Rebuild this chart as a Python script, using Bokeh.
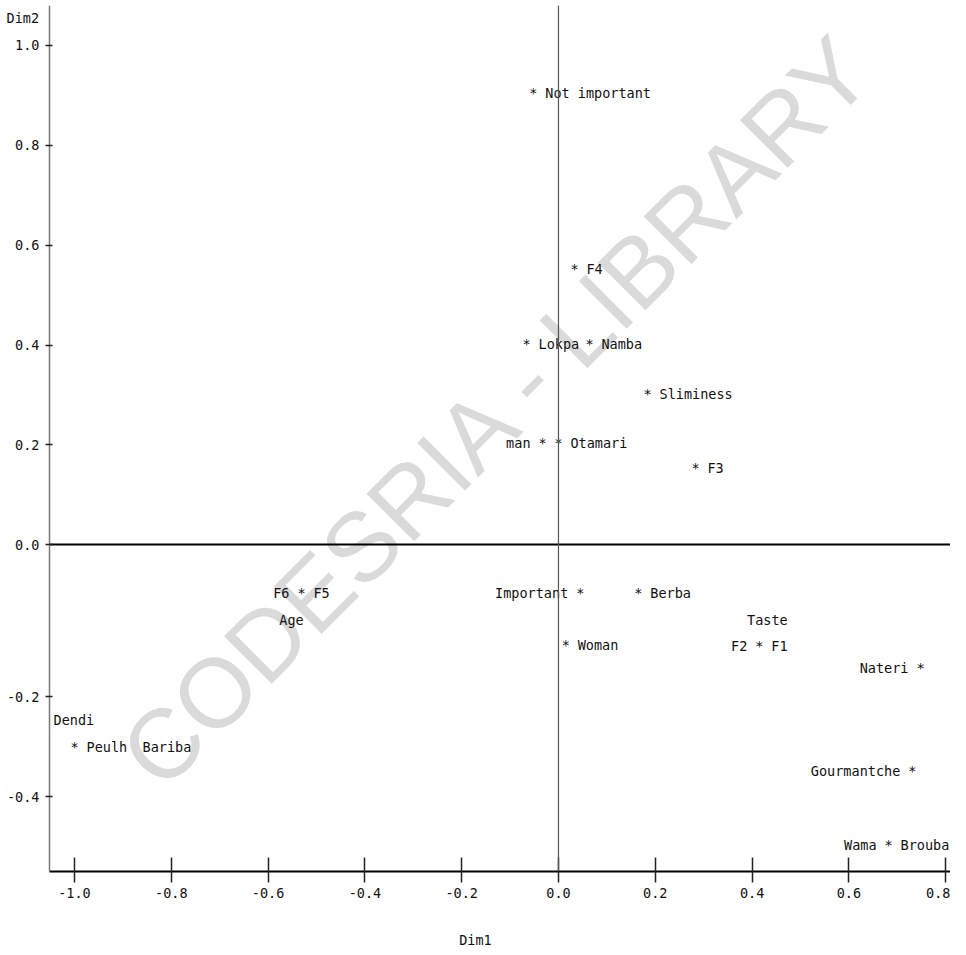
import math
from bokeh.plotting import figure
from bokeh.models import ColumnDataSource, FixedTicker, Span, Label, Range1d, LinearAxis
from bokeh.core.properties import value
from bokeh.embed import file_html
from bokeh.resources import INLINE

# ---- data ----
names = ["Not important", "F4", "Lokpa", "Namba", "Sliminess", "man", "Otamari", "F3",
         "F6", "F5", "Age", "Important", "Woman", "Berba", "F2", "F1", "Taste",
         "Nateri", "Gourmantche", "Wama", "Brouba", "Peulh", "Dendi", "Bariba"]
dim1 = [-0.052, 0.033, -0.066, 0.064, 0.184, -0.033, 0.000, 0.283,
        -0.531, -0.531, -0.531, 0.045, 0.015, 0.165, 0.415, 0.415, 0.415,
        0.748, 0.731, 0.682, 0.682, -1.000, -1.000, -1.000]
dim2 = [0.904, 0.552, 0.402, 0.402, 0.302, 0.204, 0.204, 0.154,
        -0.096, -0.096, -0.096, -0.096, -0.200, -0.096, -0.202, -0.202, -0.202,
        -0.246, -0.452, -0.600, -0.600, -0.404, -0.404, -0.404]
# where the label is printed relative to its "*"
label_side = ["r", "r", "r", "r", "r", "l", "r", "r",
              "l", "r", "below", "l", "r", "r", "l", "r", "above",
              "l", "l", "l", "r", "r", "upleft", "far"]

x_ticks = [-1.0, -0.8, -0.6, -0.4, -0.2, 0.0, 0.2, 0.4, 0.6, 0.8]
x_tick_labels = ["-1.0", "-0.8", "-0.6", "-0.4", "-0.2", "0.0", "0.2", "0.4", "0.6", "0.8"]
# the printed vertical axis is not evenly spaced below zero
y_ticks = [1.0, 0.8, 0.6, 0.4, 0.2, 0.0, -0.304, -0.504]
y_tick_labels = ["1.0", "0.8", "0.6", "0.4", "0.2", "0.0", "-0.2", "-0.4"]

# plotting window (data units)
X_MIN, X_MAX = -1.0517, 0.81
Y_MIN, Y_MAX = -0.654, 1.08

# ---- styles ----
FONT = value("DejaVu Sans Mono")
FSIZE = "13.5px"
TXT = "#111111"
side_style = {
    "r": (12, 0, "left"),
    "l": (-12, 0, "right"),
    "below": (-10, 27, "center"),
    "above": (8, -26, "center"),
    "upleft": (-21, -27, "left"),
    "far": (68, 0, "left"),
}

p = figure(width=950, height=950,
           x_range=Range1d(-1.1529, X_MAX), y_range=Range1d(Y_MIN, Y_MAX),
           output_backend="svg", toolbar_location=None,
           min_border_left=0, min_border_right=0, min_border_top=5, min_border_bottom=78,
           background_fill_color="white", border_fill_color="white")
p.outline_line_color = None
p.grid.visible = False

# watermark
p.add_layout(Label(x=-0.126, y=0.27, text="CODESRIA - LIBRARY", angle=math.pi / 4,
                   text_align="center", text_baseline="middle",
                   text_font="Liberation Sans", text_font_size="98px",
                   text_color="#dadada", level="underlay"))

# vertical zero line
p.add_layout(Span(location=0, dimension="height", line_color="#555555", line_width=1.2))
# horizontal zero line, drawn as a bare axis limited to the plotting window
zero_axis = LinearAxis(fixed_location=0, bounds=(X_MIN, X_MAX),
                       axis_line_color="#000000", axis_line_width=1.8,
                       major_tick_line_color=None, minor_tick_line_color=None,
                       major_label_text_color=None)
p.add_layout(zero_axis, "below")

# stars (one per distinct position; several labels may share a star)
star_pts = []
for x, y in zip(dim1, dim2):
    if (x, y) not in star_pts:
        star_pts.append((x, y))
star_src = ColumnDataSource(dict(x=[s[0] for s in star_pts], y=[s[1] for s in star_pts],
                                 t=["*"] * len(star_pts)))
p.text(x="x", y="y", text="t", source=star_src, text_align="center",
       text_baseline="middle", text_font=FONT, text_font_size=FSIZE, text_color=TXT)

# labels grouped by alignment
for align in ["left", "right", "center"]:
    xs, ys, ts, xo, yo = [], [], [], [], []
    for n, x, y, s in zip(names, dim1, dim2, label_side):
        ox, oy, a = side_style[s]
        if a == align:
            xs.append(x); ys.append(y); ts.append(n); xo.append(ox); yo.append(oy)
    src = ColumnDataSource(dict(x=xs, y=ys, t=ts, xo=xo, yo=yo))
    p.text(x="x", y="y", text="t", x_offset="xo", y_offset="yo", source=src,
           text_align=align, text_baseline="middle", text_font=FONT,
           text_font_size=FSIZE, text_color=TXT)

# axes
xa = p.xaxis[0]
xa.bounds = (X_MIN, X_MAX)
xa.ticker = FixedTicker(ticks=x_ticks)
xa.major_label_overrides = {t: l for t, l in zip(x_ticks, x_tick_labels)}
xa.minor_tick_line_color = None
xa.major_tick_in = 14
xa.major_tick_out = 11
xa.major_tick_line_color = "#222222"
xa.major_tick_line_width = 1.5
xa.axis_line_color = "#000000"
xa.axis_line_width = 2
xa.major_label_standoff = 5
xa.major_label_text_font = "DejaVu Sans Mono"
xa.major_label_text_font_size = FSIZE
xa.major_label_text_color = TXT
xa.axis_label = "Dim1"
xa.axis_label_text_font = "DejaVu Sans Mono"
xa.axis_label_text_font_size = FSIZE
xa.axis_label_text_font_style = "normal"
xa.axis_label_text_color = TXT
xa.axis_label_standoff = 31

ya = p.yaxis[0]
ya.fixed_location = X_MIN
ya.ticker = FixedTicker(ticks=y_ticks)
ya.major_label_overrides = {t: l for t, l in zip(y_ticks, y_tick_labels)}
ya.minor_tick_line_color = None
ya.major_tick_in = 3
ya.major_tick_out = 4
ya.major_tick_line_color = "#222222"
ya.major_tick_line_width = 1.5
ya.axis_line_color = "#7a7a7a"
ya.axis_line_width = 1.5
ya.major_label_standoff = 6
ya.major_label_text_font = "DejaVu Sans Mono"
ya.major_label_text_font_size = FSIZE
ya.major_label_text_color = TXT

# vertical axis title printed at the top-left
p.add_layout(Label(x=-1.1405, y=1.054, text="Dim2", text_align="left",
                   text_baseline="middle", text_font="DejaVu Sans Mono",
                   text_font_size=FSIZE, text_color=TXT))

open("out.html", "w").write(file_html(p, INLINE))
